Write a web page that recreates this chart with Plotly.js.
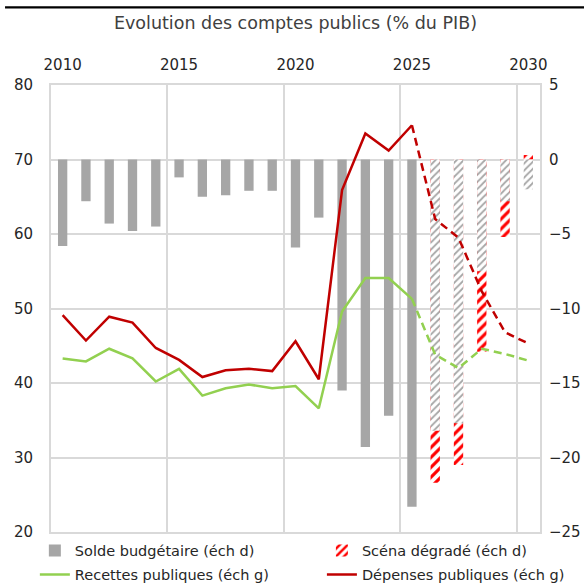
<!DOCTYPE html>
<html>
<head>
<meta charset="utf-8">
<script src="https://cdn.plot.ly/plotly-3.0.1.min.js"></script>
<style>
  html, body { margin: 0; padding: 0; background: #fff; }
  #chart { width: 584px; height: 587px; }
</style>
</head>
<body>
<div id="chart"></div>
<script>
// ---- Data ----
const yearsHist = [2010,2011,2012,2013,2014,2015,2016,2017,2018,2019,2020,2021,2022,2023,2024,2025];
const yearsProj = [2025,2026,2027,2028,2029,2030];
const yearsBarProj = [2026,2027,2028,2029,2030];
const tickYears = [2010,2015,2020,2025,2030];

// Solde budgétaire (échelle de droite), historique
const soldeHist = [-5.8,-2.8,-4.3,-4.8,-4.5,-1.2,-2.5,-2.4,-2.1,-2.1,-5.9,-3.9,-15.5,-19.3,-17.2,-23.3];
// Solde budgétaire projeté (barres hachurées grises)
const soldeProj = [-18.2,-17.7,-7.5,-2.8,-2.0];
// Scénario dégradé (barres hachurées rouges)
const soldeDegrade = [-21.7,-20.5,-12.9,-5.2,0.3];

// Recettes publiques (échelle de gauche)
const recettesHist = [43.3,42.9,44.6,43.3,40.2,41.9,38.3,39.3,39.8,39.3,39.6,36.6,49.6,54.1,54.1,51.3];
const recettesProj = [51.3,43.8,42.0,44.6,43.9,43.0];
// Dépenses publiques (échelle de gauche)
const depensesHist = [49.1,45.7,48.9,48.1,44.7,43.1,40.8,41.7,41.9,41.6,45.6,40.5,65.9,73.5,71.2,74.6];
const depensesProj = [74.6,62.0,59.5,52.3,46.8,45.3];

// ---- Styles ----
const GRAY = '#A6A6A6';
const RED_LINE = '#C00000';
const GREEN = '#92D050';
const RED_HATCH = '#FF0000';
const GRID = '#D9D9D9';
const FONT = 'DejaVu Sans, sans-serif';
const TXT = '#262626';

const traces = [
  { type: 'bar', x: yearsHist, y: soldeHist, name: 'Solde budgétaire (éch d)',
    marker: { color: GRAY, line: { width: 0 } }, width: 0.4, xaxis: 'x', yaxis: 'y',
    legend: 'legend', legendgroup: 'a', hoverinfo: 'skip' },
  { type: 'bar', x: yearsBarProj, y: soldeDegrade, name: 'Scéna dégradé (éch d)',
    marker: { color: '#ffffff', line: { width: 0 },
      pattern: { shape: '/', fgcolor: RED_HATCH, bgcolor: '#ffffff', size: 7, solidity: 0.45 } },
    width: 0.4, xaxis: 'x', yaxis: 'y', legend: 'legend2', legendgroup: 'c', hoverinfo: 'skip' },
  { type: 'bar', x: yearsBarProj, y: soldeProj, name: 'Solde projeté', showlegend: false,
    marker: { color: '#ffffff', line: { width: 0 },
      pattern: { shape: '/', fgcolor: GRAY, bgcolor: '#ffffff', size: 5, solidity: 0.35 } },
    width: 0.4, xaxis: 'x', yaxis: 'y', hoverinfo: 'skip' },
  { type: 'scatter', mode: 'lines', x: yearsHist, y: recettesHist, name: 'Recettes publiques (éch g)',
    line: { color: GREEN, width: 2.5 }, xaxis: 'x', yaxis: 'y2', legend: 'legend', legendgroup: 'b', hoverinfo: 'skip' },
  { type: 'scatter', mode: 'lines', x: yearsHist, y: depensesHist, name: 'Dépenses publiques (éch g)',
    line: { color: RED_LINE, width: 2.5 }, xaxis: 'x', yaxis: 'y2', legend: 'legend2', legendgroup: 'd', hoverinfo: 'skip' },
  { type: 'scatter', mode: 'lines', x: yearsProj, y: recettesProj, showlegend: false,
    line: { color: GREEN, width: 2.5, dash: '8px,5px' }, xaxis: 'x', yaxis: 'y2', hoverinfo: 'skip' },
  { type: 'scatter', mode: 'lines', x: yearsProj, y: depensesProj, showlegend: false,
    line: { color: RED_LINE, width: 2.5, dash: '8px,5px' }, xaxis: 'x', yaxis: 'y2', hoverinfo: 'skip' }
];

const boundaries = tickYears.map(y => y - 0.5);

const legendBase = {
  orientation: 'v', xanchor: 'left', y: -0.006, yanchor: 'top',
  traceorder: 'grouped', tracegroupgap: 2, itemwidth: 30,
  font: { family: FONT, size: 14.5, color: TXT }, bgcolor: 'rgba(0,0,0,0)', borderwidth: 0
};

const layout = {
  width: 584, height: 587,
  margin: { l: 51, r: 44, t: 85, b: 55, pad: 0, autoexpand: false },
  paper_bgcolor: '#fff', plot_bgcolor: '#fff',
  barmode: 'overlay',
  font: { family: FONT, size: 15, color: TXT },
  title: { text: 'Evolution des comptes publics (% du PIB)', font: { family: FONT, size: 17.5, color: '#404040' },
           x: 0.5, xref: 'paper', xanchor: 'center', y: 1 - 23 / 587, yref: 'container', yanchor: 'middle' },
  xaxis: {
    type: 'linear', side: 'top', range: [2009.5, 2030.5],
    tickmode: 'array', tickvals: tickYears, ticktext: tickYears.map(String),
    showgrid: false, zeroline: false,
    ticks: 'outside', ticklen: 7, tickcolor: 'rgba(0,0,0,0)',
    tickfont: { family: FONT, size: 15, color: TXT },
    showline: true, mirror: true, linecolor: GRID, linewidth: 2,
    minor: { tickmode: 'array', tickvals: boundaries, showgrid: true, gridcolor: GRID, gridwidth: 2, ticks: '' },
    fixedrange: true
  },
  yaxis: {
    side: 'right', range: [-25, 5], tickmode: 'linear', tick0: -25, dtick: 5,
    showgrid: true, gridcolor: GRID, gridwidth: 2, zeroline: false,
    ticks: 'outside', ticklen: 4, tickcolor: 'rgba(0,0,0,0)',
    tickfont: { family: FONT, size: 15, color: TXT },
    showline: true, mirror: true, linecolor: GRID, linewidth: 2,
    fixedrange: true
  },
  yaxis2: {
    overlaying: 'y', side: 'left', range: [20, 80], tickmode: 'linear', tick0: 20, dtick: 10,
    showgrid: false, zeroline: false,
    ticks: 'outside', ticklen: 14, tickcolor: 'rgba(0,0,0,0)',
    tickfont: { family: FONT, size: 15, color: TXT },
    fixedrange: true
  },
  showlegend: true,
  legend: Object.assign({}, legendBase, { x: -0.033 }),
  legend2: Object.assign({}, legendBase, { x: 0.554 }),
  shapes: [
    { type: 'rect', xref: 'paper', yref: 'paper', x0: -0.094, x1: 1.1, y0: 1.171, y1: 1.176,
      fillcolor: '#000000', line: { width: 0 }, layer: 'above' }
  ]
};

Plotly.newPlot('chart', traces, layout, { staticPlot: true, displayModeBar: false });
</script>
</body>
</html>
